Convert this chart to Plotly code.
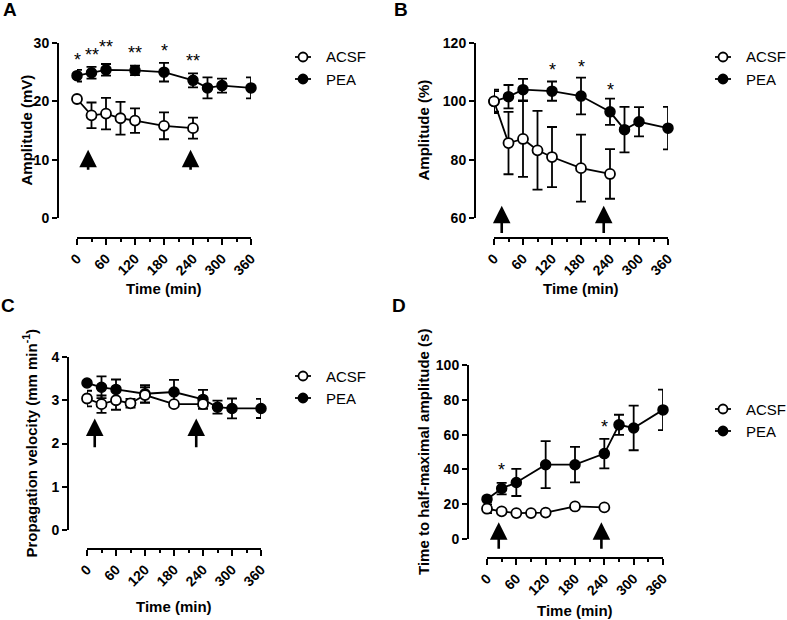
import plotly.graph_objects as go

W, H = 787, 620

# ---------------- data ----------------
t_acsf = [0, 30, 60, 90, 120, 180, 240]
t_pea = [0, 30, 60, 120, 180, 240, 270, 300, 360]
x_ticks = [0, 60, 120, 180, 240, 300, 360]
series_names = ["ACSF", "PEA"]

# Panel A: amplitude (mV)
a_acsf = [20.4, 17.6, 17.9, 17.1, 16.7, 15.8, 15.4]
a_acsf_err = [0.3, 2.2, 2.7, 2.8, 2.1, 2.3, 1.8]
a_pea = [24.4, 24.9, 25.4, 25.3, 25.0, 23.6, 22.3, 22.7, 22.3]
a_pea_err = [1.0, 1.0, 1.0, 0.8, 1.6, 1.2, 1.8, 1.2, 1.8]
a_sig_x = [0, 30, 60, 120, 180, 240]
a_sig_y = [27.0, 27.9, 29.3, 28.2, 28.7, 26.9]
a_sig = ["*", "**", "**", "**", "*", "**"]
a_arrows = [23, 235]

# Panel B: amplitude (%)
b_acsf = [100, 85.7, 87.1, 83.2, 80.9, 77.1, 75.1]
b_acsf_err = [4.0, 10.7, 13.0, 13.5, 10.3, 11.5, 8.5]
b_pea = [100, 101.6, 104.0, 103.5, 101.8, 96.4, 90.3, 93.0, 90.8]
b_pea_err = [3.5, 4.0, 3.7, 3.3, 6.3, 4.5, 7.8, 5.0, 7.3]
b_sig_x = [120, 180, 240]
b_sig_y = [110.6, 111.8, 104.0]
b_sig = ["*", "*", "*"]
b_arrows = [16, 227]

# Panel C: propagation velocity
c_acsf = [3.04, 2.91, 3.00, 2.93, 3.12, 2.91, 2.91]
c_acsf_err = [0.18, 0.20, 0.22, 0.10, 0.18, 0.02, 0.02]
c_pea = [3.40, 3.30, 3.25, 3.15, 3.19, 3.02, 2.84, 2.81, 2.81]
c_pea_err = [0.05, 0.25, 0.23, 0.20, 0.28, 0.22, 0.15, 0.23, 0.22]
c_arrows = [16, 226]

# Panel D: time to half-maximal amplitude
d_acsf = [17.4, 15.9, 14.9, 14.9, 15.2, 18.7, 18.2]
d_acsf_err = [2.5, 0.5, 0.5, 0.5, 0.5, 0.5, 0.5]
d_pea = [22.9, 29.0, 32.5, 42.7, 42.7, 49.1, 65.6, 63.8, 74.2]
d_pea_err = [1.5, 3.3, 7.8, 13.5, 10.2, 8.5, 5.8, 12.8, 11.6]
d_sig_x = [30, 240]
d_sig_y = [39.5, 64.5]
d_sig = ["*", "*"]
d_arrows = [24, 234]

FONT = "Arial, Liberation Sans, sans-serif"

fig = go.Figure()


def px_x(p):
    return p / W


def px_y(p):
    return 1 - p / H


# panel geometry in pixels
panels = [
    dict(key="", ylab="Amplitude (mV)", yrange=[0, 30], dtick=10,
         yax_x=58, y_top=43, y_bot=218, x_l=77, x_r=251, x_line=238,
         acsf=a_acsf, acsf_err=a_acsf_err, pea=a_pea, pea_err=a_pea_err,
         sig_x=a_sig_x, sig_y=a_sig_y, sig=a_sig, arrows=a_arrows, arr=(8.0, 11.7),
         leg=(303, 57), letter="A", letter_xy=(10, 9),
         ytitle_x=26, xtitle_y=289),
    dict(key="2", ylab="Amplitude (%)", yrange=[60, 120], dtick=20,
         yax_x=475, y_top=43, y_bot=218, x_l=494, x_r=668, x_line=238,
         acsf=b_acsf, acsf_err=b_acsf_err, pea=b_pea, pea_err=b_pea_err,
         sig_x=b_sig_x, sig_y=b_sig_y, sig=b_sig, arrows=b_arrows, arr=(54.3, 64.2),
         leg=(723, 57), letter="B", letter_xy=(401, 9),
         ytitle_x=423, xtitle_y=289),
    dict(key="3", ylab="Propagation velocity (mm min<sup>-1</sup>)", yrange=[0, 4], dtick=1,
         yax_x=68, y_top=357, y_bot=530, x_l=87, x_r=261, x_line=549,
         acsf=c_acsf, acsf_err=c_acsf_err, pea=c_pea, pea_err=c_pea_err,
         sig_x=[], sig_y=[], sig=[], arrows=c_arrows, arr=(1.88, 2.58),
         leg=(303, 376), letter="C", letter_xy=(8, 305),
         ytitle_x=30, xtitle_y=606),
    dict(key="4", ylab="Time to half-maximal amplitude (s)", yrange=[0, 100], dtick=20,
         yax_x=468, y_top=365, y_bot=539, x_l=487, x_r=663, x_line=558,
         acsf=d_acsf, acsf_err=d_acsf_err, pea=d_pea, pea_err=d_pea_err,
         sig_x=d_sig_x, sig_y=d_sig_y, sig=d_sig, arrows=d_arrows, arr=(-6.4, 9.6),
         leg=(723, 409), letter="D", letter_xy=(399, 305),
         ytitle_x=423, xtitle_y=610),
]

layout_upd = {}
annotations = []
shapes = []

for p in panels:
    k = p["key"]
    xa, ya = "x" + k, "y" + k
    err_style = dict(type="data", thickness=1.8, width=5, color="black")
    fig.add_trace(go.Scatter(
        x=t_pea, y=p["pea"], mode="lines+markers", name="PEA",
        xaxis=xa, yaxis=ya, cliponaxis=False, showlegend=False,
        line=dict(color="black", width=1.8),
        marker=dict(color="black", size=10, line=dict(color="black", width=1.5)),
        error_y=dict(array=p["pea_err"], **err_style),
    ))
    fig.add_trace(go.Scatter(
        x=t_acsf, y=p["acsf"], mode="lines+markers", name="ACSF",
        xaxis=xa, yaxis=ya, cliponaxis=False, showlegend=False,
        line=dict(color="black", width=1.8),
        marker=dict(color="white", size=10, line=dict(color="black", width=1.8)),
        error_y=dict(array=p["acsf_err"], **err_style),
    ))

    layout_upd["xaxis" + k] = dict(
        domain=[px_x(p["x_l"]), px_x(p["x_r"])], range=[0, 360],
        anchor="free", position=px_y(p["x_line"]),
        showline=True, linecolor="black", linewidth=2,
        ticks="outside", ticklen=6, tickwidth=1.8, tickcolor="black",
        tickvals=x_ticks, tickangle=-45,
        minor=dict(dtick=30, tick0=0, ticks="outside", ticklen=3, tickwidth=1.5, tickcolor="black"),
        tickfont=dict(family=FONT, size=14, color="black", weight="bold"),
        showgrid=False, zeroline=False, fixedrange=True, automargin=False,
    )
    layout_upd["yaxis" + k] = dict(
        domain=[px_y(p["y_bot"]), px_y(p["y_top"])], range=p["yrange"],
        anchor="free", position=px_x(p["yax_x"]),
        showline=True, linecolor="black", linewidth=2,
        ticks="outside", ticklen=5, tickwidth=1.8, tickcolor="black",
        dtick=p["dtick"], tick0=0,
        tickfont=dict(family=FONT, size=14, color="black", weight="bold"),
        showgrid=False, zeroline=False, fixedrange=True, automargin=False,
    )

    # legend key (drawn manually so it never shifts the plot margins)
    lx, ly = p["leg"]
    for i, name in enumerate(series_names):
        cy = ly + i * 22
        shapes.append(dict(type="line", xref="paper", yref="paper",
                           x0=px_x(lx - 8), x1=px_x(lx + 8), y0=px_y(cy), y1=px_y(cy),
                           line=dict(color="black", width=1.8)))
        shapes.append(dict(type="circle", xref="paper", yref="paper",
                           x0=px_x(lx - 4.5), x1=px_x(lx + 4.5), y0=px_y(cy + 4.5), y1=px_y(cy - 4.5),
                           fillcolor="white" if name == "ACSF" else "black",
                           line=dict(color="black", width=1.8)))
        annotations.append(dict(x=px_x(lx + 21), y=px_y(cy), xref="paper", yref="paper",
                                text=name, showarrow=False, xanchor="left", yanchor="middle",
                                font=dict(family=FONT, size=15, color="black")))

    # significance stars
    for sx, sy, s in zip(p["sig_x"], p["sig_y"], p["sig"]):
        annotations.append(dict(x=sx, y=sy, xref=xa, yref=ya, text=s, showarrow=False,
                                font=dict(family=FONT, size=18, color="black")))
    # arrows
    y0, y1 = p["arr"]
    for axx in p["arrows"]:
        annotations.append(dict(x=axx, y=y1, ax=axx, ay=y0, xref=xa, yref=ya,
                                axref=xa, ayref=ya, text="", showarrow=True,
                                arrowhead=2, arrowsize=1.35, arrowwidth=2.6,
                                arrowcolor="black"))
    # axis titles
    annotations.append(dict(x=px_x(p["ytitle_x"]), y=px_y((p["y_top"] + p["y_bot"]) / 2),
                            xref="paper", yref="paper", text=p["ylab"], textangle=-90,
                            showarrow=False, xanchor="center", yanchor="middle",
                            font=dict(family=FONT, size=15, color="black", weight="bold")))
    annotations.append(dict(x=px_x((p["x_l"] + p["x_r"]) / 2), y=px_y(p["xtitle_y"]),
                            xref="paper", yref="paper", text="Time (min)",
                            showarrow=False, xanchor="center", yanchor="middle",
                            font=dict(family=FONT, size=15, color="black", weight="bold")))
    # panel letter
    lx2, ly2 = p["letter_xy"]
    annotations.append(dict(x=px_x(lx2), y=px_y(ly2), xref="paper", yref="paper",
                            text=p["letter"], showarrow=False, xanchor="center", yanchor="middle",
                            font=dict(family=FONT, size=19, color="black", weight="bold")))

fig.update_layout(
    width=W, height=H, margin=dict(l=0, r=0, t=0, b=0, autoexpand=False),
    paper_bgcolor="white", plot_bgcolor="white",
    font=dict(family=FONT, color="black"),
    annotations=annotations, shapes=shapes, showlegend=False,
    **layout_upd,
)

fig.write_html("out.html", config={"displayModeBar": False},
               post_script="document.body.style.margin='0';document.body.style.overflow='hidden';")
